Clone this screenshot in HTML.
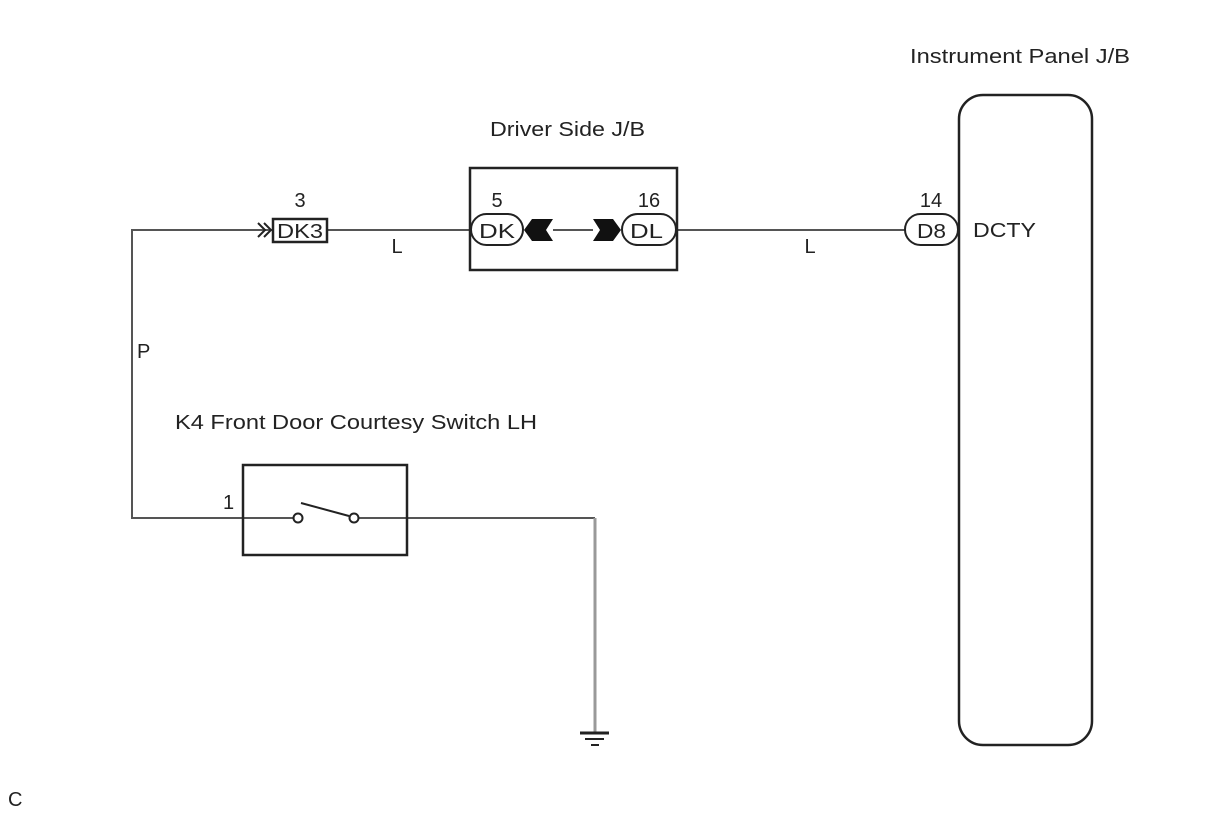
<!DOCTYPE html>
<html><head><style>body{margin:0;background:#fff}svg{display:block}</style></head>
<body>
<svg width="1210" height="814" viewBox="0 0 1210 814" xmlns="http://www.w3.org/2000/svg" font-family="Liberation Sans, sans-serif" font-size="20" fill="#222">
<g stroke="#555" stroke-width="2" fill="none">
<polyline points="132,230 272,230"/>
<polyline points="327,230 471,230"/>
<polyline points="553,230 593,230"/>
<polyline points="676,230 905,230"/>
<polyline points="132,229 132,518 243,518"/>
<polyline points="243,518 294,518"/>
<polyline points="358,518 595,518"/>
<line x1="595" y1="518" x2="595" y2="733" stroke="#999" stroke-width="3"/>
</g>
<g stroke="#222" stroke-width="2" fill="none">
<path d="M258,223 L265,230 L258,237 M264,223 L271,230 L264,237"/>
<rect x="273" y="219" width="54" height="23" stroke-width="2.5"/>
<rect x="470" y="168" width="207" height="102" stroke-width="2.5"/>
<rect x="471" y="214" width="52" height="31" rx="15.5" fill="#fff"/>
<rect x="622" y="214" width="54" height="31" rx="15.5" fill="#fff"/>
<rect x="905" y="214" width="53" height="31" rx="15.5" fill="#fff"/>
<rect x="959" y="95" width="133" height="650" rx="24" stroke-width="2.5"/>
<rect x="243" y="465" width="164" height="90" stroke-width="2.5"/>
<line x1="301" y1="503" x2="349" y2="516"/>
<circle cx="298" cy="518" r="4.5" fill="#fff"/>
<circle cx="354" cy="518" r="4.5" fill="#fff"/>
<line x1="580" y1="733" x2="609" y2="733" stroke-width="3"/>
<line x1="585" y1="739" x2="604" y2="739"/>
<line x1="591" y1="745" x2="599" y2="745"/>
</g>
<path d="M524,230 L532,219 L553,219 L546,230 L553,241 L532,241 Z" fill="#111"/>
<path d="M593,219 L613,219 L621,230 L613,241 L593,241 L600,230 Z" fill="#111"/>
<text x="300" y="207" text-anchor="middle">3</text>
<text x="277" y="238" textLength="46" lengthAdjust="spacingAndGlyphs">DK3</text>
<text x="397" y="253" text-anchor="middle">L</text>
<text x="490" y="136" textLength="155" lengthAdjust="spacingAndGlyphs">Driver Side J/B</text>
<text x="497" y="207" text-anchor="middle">5</text>
<text x="479" y="238" textLength="36" lengthAdjust="spacingAndGlyphs">DK</text>
<text x="649" y="207" text-anchor="middle">16</text>
<text x="630" y="238" textLength="33" lengthAdjust="spacingAndGlyphs">DL</text>
<text x="810" y="253" text-anchor="middle">L</text>
<text x="931" y="207" text-anchor="middle">14</text>
<text x="917" y="238" textLength="29" lengthAdjust="spacingAndGlyphs">D8</text>
<text x="973" y="237" textLength="63" lengthAdjust="spacingAndGlyphs">DCTY</text>
<text x="910" y="63" textLength="220" lengthAdjust="spacingAndGlyphs">Instrument Panel J/B</text>
<text x="137" y="358">P</text>
<text x="175" y="429" textLength="362" lengthAdjust="spacingAndGlyphs">K4 Front Door Courtesy Switch LH</text>
<text x="223" y="509">1</text>
<text x="8" y="806">C</text>
</svg>
</body></html>
